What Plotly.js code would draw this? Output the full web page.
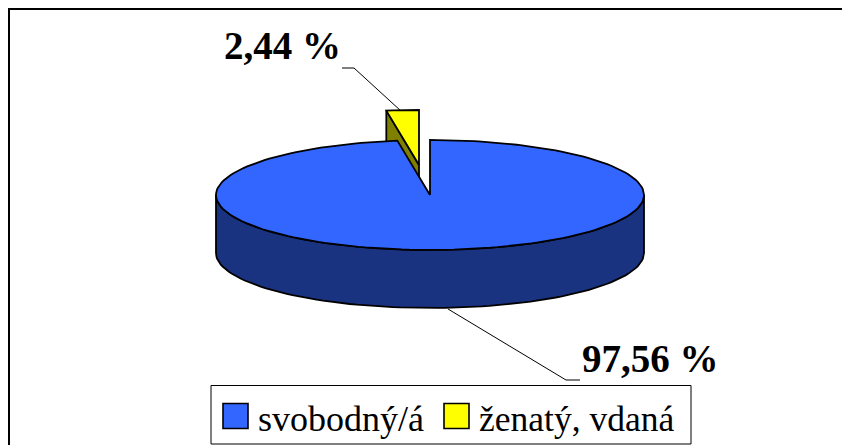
<!DOCTYPE html>
<html><head><meta charset="utf-8">
<script src="https://cdn.plot.ly/plotly-3.0.1.min.js"></script>
<style>html,body{margin:0;padding:0;background:#fff}#c{width:842px;height:445px}</style>
</head><body><div id="c"></div>
<script>
const categories = ['svobodný/á', 'ženatý, vdaná'];
const values = [97.56, 2.44];
const valueLabels = ['97,56 %', '2,44 %'];
const topColors = ['#3366ff', '#ffff00'];
const sideColors = ['#1a3380', '#808000'];

const cx = 430, cy = 195, rx = 214, ry = 55, depth = 58;
const explodeSmall = [-11, -30];
const total = values.reduce((a, b) => a + b, 0);
const startDeg = 0;
const sweep = values.map(v => v / total * 360);

function pt(deg, ox, oy, dz) {
  const r = deg * Math.PI / 180;
  return [cx + ox + rx * Math.sin(r), cy + oy - ry * Math.cos(r) + dz];
}
function arc(a, b, ox, oy, dz) {
  const out = [], n = Math.max(2, Math.ceil(Math.abs(b - a) / 2));
  for (let i = 0; i <= n; i++) out.push(pt(a + (b - a) * i / n, ox, oy, dz));
  return out;
}
function poly(points, fill, name) {
  return {type: 'scatter', mode: 'lines', x: points.map(p => p[0]), y: points.map(p => p[1]),
    fill: 'toself', fillcolor: fill, line: {color: '#000', width: 1.8}, hoverinfo: 'skip', showlegend: false, name: name};
}
function path(points) {
  return {type: 'scatter', mode: 'lines', x: points.map(p => p[0]), y: points.map(p => p[1]),
    line: {color: '#000', width: 1}, hoverinfo: 'skip', showlegend: false};
}
const a0 = startDeg, a1 = a0 + sweep[0], a2 = a1 + sweep[1];
const [ox, oy] = explodeSmall;
const apexS = [cx + ox, cy + oy];

const traces = [];
// small slice: extruded side, then top
traces.push(poly([pt(a1, ox, oy, 0), apexS, [apexS[0], apexS[1] + depth], pt(a1, ox, oy, depth), pt(a1, ox, oy, 0)], sideColors[1], categories[1]));
traces.push(poly([apexS, ...arc(a1, a2, ox, oy, 0), apexS], topColors[1], categories[1]));
// large slice: outer wall (front half), then top
traces.push(poly([...arc(90, 270, 0, 0, 0), ...arc(270, 90, 0, 0, depth)].concat([pt(90, 0, 0, 0)]), sideColors[0], categories[0]));
traces.push(poly([[cx, cy], ...arc(a0, a1, 0, 0, 0), [cx, cy]], topColors[0], categories[0]));
// leader lines
traces.push(path([[342, 68], [354, 68], [401, 111]]));
traces.push(path([[448, 309], [566, 380], [580, 380]]));

const shapes = [
  {type: 'line', x0: 9, x1: 9, y0: 9, y1: 445, line: {color: '#000', width: 2}},
  {type: 'line', x0: 8, x1: 842, y0: 9, y1: 9, line: {color: '#000', width: 2}},
  {type: 'rect', x0: 211, x1: 691, y0: 385.5, y1: 444, line: {color: '#000', width: 1}, fillcolor: '#fff'},
  {type: 'rect', x0: 223, x1: 248, y0: 403.5, y1: 428.5, line: {color: '#000', width: 1.6}, fillcolor: topColors[0]},
  {type: 'rect', x0: 444, x1: 469, y0: 403.5, y1: 428.5, line: {color: '#000', width: 1.6}, fillcolor: topColors[1]}
];
const serif = '"Liberation Serif", serif';
const ann = (x, y, text, size, bold, anchor) => ({x, y, text: bold ? '<b>' + text + '</b>' : text, showarrow: false,
  xanchor: anchor, yanchor: 'middle', font: {family: serif, size, color: '#000'}});
const annotations = [
  ann(222, 45, valueLabels[1], 39, true, 'left'),
  ann(580, 358, valueLabels[0], 39, true, 'left'),
  ann(256, 419, categories[0], 36, false, 'left'),
  ann(477, 419, categories[1], 35.5, false, 'left')
];
Plotly.newPlot('c', traces, {
  width: 842, height: 445, margin: {l: 0, r: 0, t: 0, b: 0}, showlegend: false,
  paper_bgcolor: '#fff', plot_bgcolor: '#fff',
  xaxis: {range: [0, 842], visible: false, fixedrange: true},
  yaxis: {range: [445, 0], visible: false, fixedrange: true},
  shapes, annotations
}, {displayModeBar: false, staticPlot: true});
</script></body></html>
